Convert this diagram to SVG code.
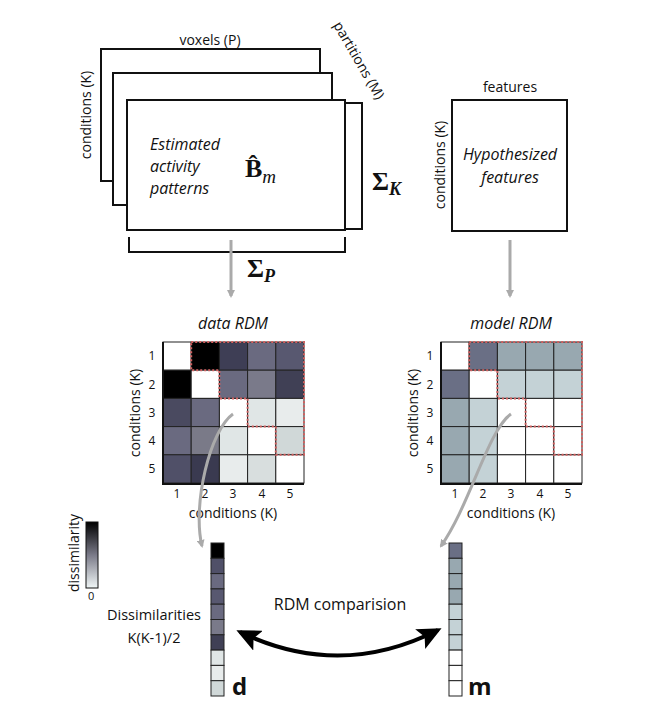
<svg xmlns="http://www.w3.org/2000/svg" width="661" height="720" viewBox="0 0 661 720">
<defs>
<style>
text{font-family:"Open Sans","DejaVu Sans",sans-serif;fill:#111}
.lbl{font-size:14px}
.num{font-size:12px;text-anchor:middle}
.it{font-style:italic;font-size:16px}
.box{fill:#fff;stroke:#111;stroke-width:2}
.cell{stroke:#222;stroke-width:1}
.red{fill:none;stroke:#d06060;stroke-width:2;stroke-dasharray:2 2}
.gray{fill:none;stroke:#aaa;stroke-width:3}
.math{font-family:"Liberation Serif",serif;font-weight:bold}
</style>
<marker id="ga" markerWidth="8" markerHeight="8" refX="6" refY="4" orient="auto" markerUnits="userSpaceOnUse"><path d="M0,0 L8,4 L0,8 z" fill="#aaa"/></marker>
<marker id="ba" markerWidth="24" markerHeight="22" refX="20" refY="11" orient="auto-start-reverse" markerUnits="userSpaceOnUse"><path d="M0,0 L24,11 L0,22 L5,11 z" fill="#000"/></marker>
<linearGradient id="cb" x1="0" y1="0" x2="0" y2="1"><stop offset="0" stop-color="#000"/><stop offset="0.5" stop-color="#7a7a88"/><stop offset="1" stop-color="#f0f6f6"/></linearGradient>
</defs>

<g id="patterns">
<rect class="box" x="101" y="49" width="219" height="132"/>
<rect class="box" x="113" y="73" width="219" height="132"/>
<rect class="box" x="127" y="100" width="218" height="130"/>
<text class="lbl" x="210" y="45" text-anchor="middle">voxels (P)</text>
<text class="lbl" transform="translate(333,25) rotate(60)">partitions (M)</text>
<text class="lbl" transform="translate(91,115) rotate(-90)" text-anchor="middle">conditions (K)</text>
<text class="it" x="150" y="150">Estimated</text>
<text class="it" x="150" y="172">activity</text>
<text class="it" x="150" y="194">patterns</text>
<text class="math" x="245" y="177" font-size="26">B̂<tspan font-style="italic" font-weight="normal" font-size="19" dy="6">m</tspan></text>
<path d="M346,103 H362 V229 H346" fill="none" stroke="#111" stroke-width="2"/>
<text class="math" x="372" y="190" font-size="26">Σ<tspan font-style="italic" font-size="18" dy="5">K</tspan></text>
<path d="M129,237 V252 H345 V237" fill="none" stroke="#111" stroke-width="2"/>
<text class="math" x="247" y="277" font-size="26">Σ<tspan font-style="italic" font-size="18" dy="5">P</tspan></text>
</g>

<g id="features">
<rect class="box" x="452" y="100" width="115" height="131"/>
<text class="lbl" x="510" y="92" text-anchor="middle">features</text>
<text class="lbl" transform="translate(445,165) rotate(-90)" text-anchor="middle">conditions (K)</text>
<text class="it" x="510" y="160" text-anchor="middle">Hypothesized</text>
<text class="it" x="510" y="183" text-anchor="middle">features</text>
</g>

<g id="dataRDM">
<text class="it" x="233" y="329" text-anchor="middle">data RDM</text>
<g class="cell">
<rect x="163" y="342" width="28.2" height="28.2" fill="#fff"/><rect x="191.2" y="342" width="28.2" height="28.2" fill="#000"/><rect x="219.4" y="342" width="28.2" height="28.2" fill="#3e3e55"/><rect x="247.6" y="342" width="28.2" height="28.2" fill="#6a6a80"/><rect x="275.8" y="342" width="28.2" height="28.2" fill="#585870"/>
<rect x="163" y="370.2" width="28.2" height="28.2" fill="#000"/><rect x="191.2" y="370.2" width="28.2" height="28.2" fill="#fff"/><rect x="219.4" y="370.2" width="28.2" height="28.2" fill="#6a6a80"/><rect x="247.6" y="370.2" width="28.2" height="28.2" fill="#7a7a8a"/><rect x="275.8" y="370.2" width="28.2" height="28.2" fill="#404055"/>
<rect x="163" y="398.4" width="28.2" height="28.2" fill="#4a4a60"/><rect x="191.2" y="398.4" width="28.2" height="28.2" fill="#6a6a80"/><rect x="219.4" y="398.4" width="28.2" height="28.2" fill="#fff"/><rect x="247.6" y="398.4" width="28.2" height="28.2" fill="#e0e6e6"/><rect x="275.8" y="398.4" width="28.2" height="28.2" fill="#e8ecec"/>
<rect x="163" y="426.6" width="28.2" height="28.2" fill="#6a6a80"/><rect x="191.2" y="426.6" width="28.2" height="28.2" fill="#7a7a88"/><rect x="219.4" y="426.6" width="28.2" height="28.2" fill="#e0e6e6"/><rect x="247.6" y="426.6" width="28.2" height="28.2" fill="#fff"/><rect x="275.8" y="426.6" width="28.2" height="28.2" fill="#d0d8d8"/>
<rect x="163" y="454.8" width="28.2" height="28.2" fill="#505068"/><rect x="191.2" y="454.8" width="28.2" height="28.2" fill="#3a3a50"/><rect x="219.4" y="454.8" width="28.2" height="28.2" fill="#e8ecec"/><rect x="247.6" y="454.8" width="28.2" height="28.2" fill="#d8dede"/><rect x="275.8" y="454.8" width="28.2" height="28.2" fill="#fff"/>
</g>
<path d="M163,342 V484 H304" fill="none" stroke="#111" stroke-width="2"/>
<path class="red" d="M191.2,342 H304 V454.8 H275.8 V426.6 H247.6 V398.4 H219.4 V370.2 H191.2 Z"/>
<g class="num"><text x="152" y="360">1</text><text x="152" y="389">2</text><text x="152" y="417">3</text><text x="152" y="445">4</text><text x="152" y="473">5</text>
<text x="177" y="498">1</text><text x="205" y="498">2</text><text x="233" y="498">3</text><text x="262" y="498">4</text><text x="290" y="498">5</text></g>
<text class="lbl" x="233" y="518" text-anchor="middle">conditions (K)</text>
<text class="lbl" transform="translate(140,413) rotate(-90)" text-anchor="middle">conditions (K)</text>
</g>

<g id="modelRDM">
<text class="it" x="511" y="329" text-anchor="middle">model RDM</text>
<g class="cell">
<rect x="441" y="342" width="28.2" height="28.2" fill="#fff"/><rect x="469.2" y="342" width="28.2" height="28.2" fill="#6a6f85"/><rect x="497.4" y="342" width="28.2" height="28.2" fill="#98a8b0"/><rect x="525.6" y="342" width="28.2" height="28.2" fill="#98a8b0"/><rect x="553.8" y="342" width="28.2" height="28.2" fill="#98a8b0"/>
<rect x="441" y="370.2" width="28.2" height="28.2" fill="#6a6f85"/><rect x="469.2" y="370.2" width="28.2" height="28.2" fill="#fff"/><rect x="497.4" y="370.2" width="28.2" height="28.2" fill="#c4d2d6"/><rect x="525.6" y="370.2" width="28.2" height="28.2" fill="#c4d2d6"/><rect x="553.8" y="370.2" width="28.2" height="28.2" fill="#c4d2d6"/>
<rect x="441" y="398.4" width="28.2" height="28.2" fill="#98a8b0"/><rect x="469.2" y="398.4" width="28.2" height="28.2" fill="#c4d2d6"/><rect x="497.4" y="398.4" width="28.2" height="28.2" fill="#fff"/><rect x="525.6" y="398.4" width="28.2" height="28.2" fill="#fff"/><rect x="553.8" y="398.4" width="28.2" height="28.2" fill="#fff"/>
<rect x="441" y="426.6" width="28.2" height="28.2" fill="#98a8b0"/><rect x="469.2" y="426.6" width="28.2" height="28.2" fill="#c4d2d6"/><rect x="497.4" y="426.6" width="28.2" height="28.2" fill="#fff"/><rect x="525.6" y="426.6" width="28.2" height="28.2" fill="#fff"/><rect x="553.8" y="426.6" width="28.2" height="28.2" fill="#fff"/>
<rect x="441" y="454.8" width="28.2" height="28.2" fill="#98a8b0"/><rect x="469.2" y="454.8" width="28.2" height="28.2" fill="#c4d2d6"/><rect x="497.4" y="454.8" width="28.2" height="28.2" fill="#fff"/><rect x="525.6" y="454.8" width="28.2" height="28.2" fill="#fff"/><rect x="553.8" y="454.8" width="28.2" height="28.2" fill="#fff"/>
</g>
<path d="M441,342 V484 H582" fill="none" stroke="#111" stroke-width="2"/>
<path class="red" d="M469.2,342 H582 V454.8 H553.8 V426.6 H525.6 V398.4 H497.4 V370.2 H469.2 Z"/>
<g class="num"><text x="430" y="360">1</text><text x="430" y="389">2</text><text x="430" y="417">3</text><text x="430" y="445">4</text><text x="430" y="473">5</text>
<text x="455" y="498">1</text><text x="483" y="498">2</text><text x="511" y="498">3</text><text x="540" y="498">4</text><text x="568" y="498">5</text></g>
<text class="lbl" x="511" y="518" text-anchor="middle">conditions (K)</text>
<text class="lbl" transform="translate(418,413) rotate(-90)" text-anchor="middle">conditions (K)</text>
</g>

<g id="colorbar">
<rect x="86" y="522" width="12" height="66" fill="url(#cb)" stroke="#111" stroke-width="1"/>
<text class="lbl" transform="translate(79,553) rotate(-90)" text-anchor="middle" font-size="13">dissimilarity</text>
<text x="88" y="600" font-size="11">0</text>
</g>

<g id="vectorD" class="cell">
<rect x="211" y="543" width="13" height="15.3" fill="#000"/><rect x="211" y="558.3" width="13" height="15.3" fill="#505068"/><rect x="211" y="573.6" width="13" height="15.3" fill="#6a6a80"/><rect x="211" y="588.9" width="13" height="15.3" fill="#585870"/><rect x="211" y="604.2" width="13" height="15.3" fill="#6a6a80"/><rect x="211" y="619.5" width="13" height="15.3" fill="#7a7a8a"/><rect x="211" y="634.8" width="13" height="15.3" fill="#404055"/><rect x="211" y="650.1" width="13" height="15.3" fill="#e0e6e6"/><rect x="211" y="665.4" width="13" height="15.3" fill="#e8ecec"/><rect x="211" y="680.7" width="13" height="15.3" fill="#d0d8d8"/>
</g>
<g id="vectorM" class="cell">
<rect x="449" y="543" width="13" height="15.3" fill="#6a6f85"/><rect x="449" y="558.3" width="13" height="15.3" fill="#98a8b0"/><rect x="449" y="573.6" width="13" height="15.3" fill="#98a8b0"/><rect x="449" y="588.9" width="13" height="15.3" fill="#98a8b0"/><rect x="449" y="604.2" width="13" height="15.3" fill="#c4d2d6"/><rect x="449" y="619.5" width="13" height="15.3" fill="#c4d2d6"/><rect x="449" y="634.8" width="13" height="15.3" fill="#c4d2d6"/><rect x="449" y="650.1" width="13" height="15.3" fill="#fff"/><rect x="449" y="665.4" width="13" height="15.3" fill="#fff"/><rect x="449" y="680.7" width="13" height="15.3" fill="#fff"/>
</g>

<g id="labels">
<text x="154" y="620" font-size="14.5" text-anchor="middle">Dissimilarities</text>
<text x="154" y="643" font-size="14.5" text-anchor="middle">K(K-1)/2</text>
<text x="340" y="610" font-size="16" text-anchor="middle">RDM comparision</text>
<text x="232" y="695" font-size="24" font-weight="bold">d</text>
<text x="468" y="695" font-size="24" font-weight="bold">m</text>
</g>

<g id="connectors">
<path class="gray" d="M231,240 V296" marker-end="url(#ga)"/>
<path class="gray" d="M510,240 V296" marker-end="url(#ga)"/>
<path class="gray" d="M233,414 C210,430 192,505 202,546" marker-end="url(#ga)"/>
<path class="gray" d="M511,414 C488,430 470,505 441,546" marker-end="url(#ga)"/>
<path d="M240,632 Q340,680 438,630" fill="none" stroke="#000" stroke-width="4" marker-start="url(#ba)" marker-end="url(#ba)"/>
</g>
</svg>
